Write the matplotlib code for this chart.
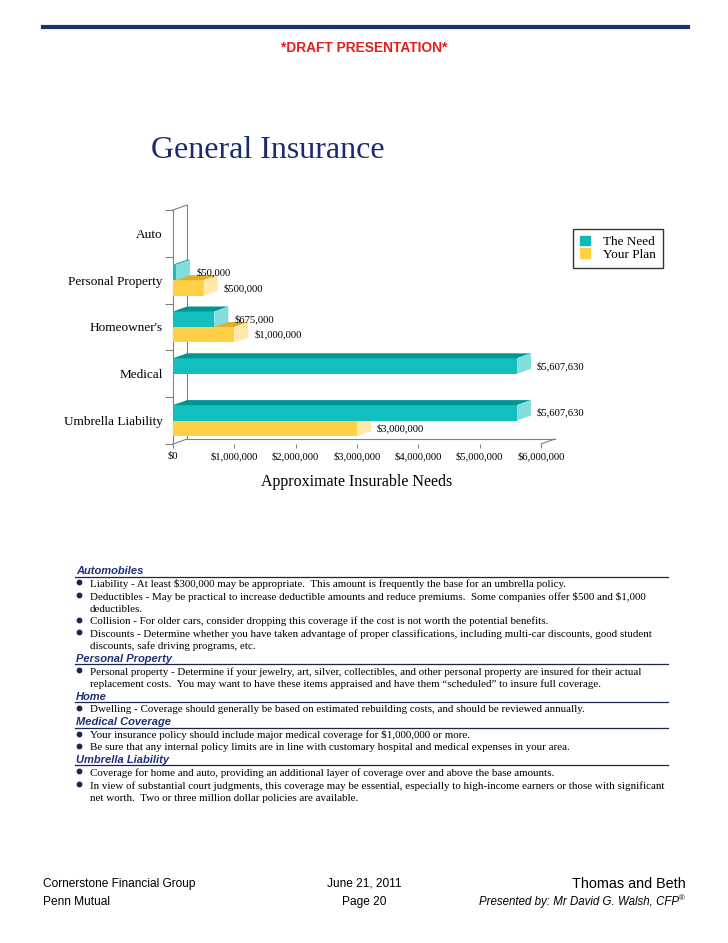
import matplotlib
matplotlib.use("Agg")
import matplotlib.pyplot as plt
from matplotlib.patches import Polygon, Patch
from matplotlib.lines import Line2D
from matplotlib.ticker import FuncFormatter

# --------------------------------------------------------------------------- #
# Data                                                                        #
# --------------------------------------------------------------------------- #
categories = ["Auto", "Personal Property", "Homeowner's", "Medical", "Umbrella Liability"]
the_need = [0, 50000, 675000, 5607630, 5607630]
your_plan = [0, 500000, 1000000, 0, 3000000]
x_ticks = [0, 1000000, 2000000, 3000000, 4000000, 5000000, 6000000]

notes = [
    ("Automobiles", [
        ["Liability - At least $300,000 may be appropriate.  This amount is frequently the base for an umbrella policy."],
        ["Deductibles - May be practical to increase deductible amounts and reduce premiums.  Some companies offer $500 and $1,000",
         "deductibles."],
        ["Collision - For older cars, consider dropping this coverage if the cost is not worth the potential benefits."],
        ["Discounts - Determine whether you have taken advantage of proper classifications, including multi-car discounts, good student",
         "discounts, safe driving programs, etc."],
    ]),
    ("Personal Property", [
        ["Personal property - Determine if your jewelry, art, silver, collectibles, and other personal property are insured for their actual",
         "replacement costs.  You may want to have these items appraised and have them \u201cscheduled\u201d to insure full coverage."],
    ]),
    ("Home", [
        ["Dwelling - Coverage should generally be based on estimated rebuilding costs, and should be reviewed annually."],
    ]),
    ("Medical Coverage", [
        ["Your insurance policy should include major medical coverage for $1,000,000 or more."],
        ["Be sure that any internal policy limits are in line with customary hospital and medical expenses in your area."],
    ]),
    ("Umbrella Liability", [
        ["Coverage for home and auto, providing an additional layer of coverage over and above the base amounts."],
        ["In view of substantial court judgments, this coverage may be essential, especially to high-income earners or those with significant",
         "net worth.  Two or three million dollar policies are available."],
    ]),
]

W, H = 728, 943
NAVY = "#1F2F7A"
SERIF = ["Liberation Serif", "DejaVu Serif"]
SANS = ["Liberation Sans", "DejaVu Sans"]

TEAL = ("#12BEBE", "#009494", "#82DEDE")     # front, top, side
GOLD = ("#FFCF45", "#E2AE2E", "#FFE8A8")

plt.rcParams["text.parse_math"] = False


def fx(x):
    return x / W


def fy(y):
    return 1 - y / H


fig = plt.figure(figsize=(W / 100, H / 100), dpi=100)

# --------------------------------------------------------------------------- #
# Page header                                                                 #
# --------------------------------------------------------------------------- #
fig.add_artist(Line2D([fx(43), fx(688)], [fy(27), fy(27)], lw=3, color="#1B3172"))
fig.text(fx(364), fy(48), "*DRAFT PRESENTATION*", ha="center", va="center",
         fontsize=9.9, fontweight="bold", color="#E0201E", family=SANS)
fig.text(fx(268), fy(150), "General Insurance", ha="center", va="center",
         fontsize=23, color="#1C2B6E", family=SERIF)

# --------------------------------------------------------------------------- #
# Pseudo-3D horizontal bar chart                                              #
# --------------------------------------------------------------------------- #
ax = fig.add_axes([fx(173), fy(444), 368 / W, 234 / H])
ax.set_xlim(0, 6000000)
ax.set_ylim(-0.5, 4.5)

n = len(categories)
ypos = [n - 1 - i for i in range(n)]
row_px = 234 / n
bh = 15.5 / row_px
DX = 14 * 6000000 / 368
DY = 5 / row_px
GRAY = "#808080"

# back wall + floor edges
wall = dict(color=GRAY, lw=0.8, clip_on=False, zorder=1)
ax.plot([DX, DX], [-0.5 + DY, 4.5 + DY], **wall)
ax.plot([0, DX], [4.5, 4.5 + DY], **wall)
ax.plot([0, DX], [-0.5, -0.5 + DY], **wall)
ax.plot([DX, 6000000 + DX], [-0.5 + DY, -0.5 + DY], **wall)
ax.plot([6000000, 6000000 + DX], [-0.5, -0.5 + DY], **wall)


def bar3d(y0, w, cols):
    if w <= 0:
        return
    ax.barh(y0, w, height=bh, align="edge", color=cols[0], lw=0, zorder=3)
    top = [(0, y0 + bh), (w, y0 + bh), (w + DX, y0 + bh + DY), (DX, y0 + bh + DY)]
    side = [(w, y0), (w + DX, y0 + DY), (w + DX, y0 + bh + DY), (w, y0 + bh)]
    ax.add_patch(Polygon(top, closed=True, fc=cols[1], lw=0, zorder=3, clip_on=False))
    ax.add_patch(Polygon(side, closed=True, fc=cols[2], lw=0, zorder=3, clip_on=False))


lbl_dx = 6 * 6000000 / 368
for y, need, plan in zip(ypos, the_need, your_plan):
    bar3d(y - bh, plan, GOLD)
    bar3d(y, need, TEAL)
    if plan > 0:
        ax.text(plan + DX + lbl_dx, y - bh / 2, f"${plan:,.0f}", ha="left", va="center",
                fontsize=7.7, family=SERIF, zorder=5)
    if need > 0:
        ax.text(need + DX + lbl_dx, y + bh / 2, f"${need:,.0f}", ha="left", va="center",
                fontsize=7.7, family=SERIF, zorder=5)

for s in ("top", "right", "bottom"):
    ax.spines[s].set_visible(False)
ax.spines["left"].set_color(GRAY)
ax.spines["left"].set_linewidth(0.8)
ax.patch.set_alpha(0)

ax.set_yticks([i - 0.5 for i in range(n + 1)])
ax.set_yticklabels([])
ax.set_yticks(ypos, minor=True)
ax.set_yticklabels(categories, minor=True, fontsize=9.5, family=SERIF)
ax.tick_params(axis="y", which="major", length=5.8, color=GRAY, width=0.8)
ax.tick_params(axis="y", which="minor", length=0, pad=7.2)

ax.set_xticks(x_ticks)
ax.xaxis.set_major_formatter(FuncFormatter(lambda v, p: f"${v:,.0f}"))
ax.tick_params(axis="x", length=2.9, color=GRAY, width=0.8, pad=2.5, labelsize=7.7)
for t in ax.get_xticklabels():
    t.set_family(SERIF)
ax.set_xlabel("Approximate Insurable Needs", fontsize=11.5, family=SERIF, labelpad=9)

leg = ax.legend(handles=[Patch(color="#12B9B9", label="The Need"),
                         Patch(color="#FFD046", label="Your Plan")],
                loc="upper left", bbox_to_anchor=(fx(573), fy(229)),
                bbox_transform=fig.transFigure, frameon=True, fancybox=False,
                prop={"family": SERIF, "size": 9.5}, handlelength=0.75,
                handleheight=0.7, handletextpad=1.0, labelspacing=0.0,
                borderpad=0.55, borderaxespad=0)
leg.get_frame().set_edgecolor("black")
leg.get_frame().set_linewidth(1.0)

# --------------------------------------------------------------------------- #
# Notes section                                                               #
# --------------------------------------------------------------------------- #
y = 570
line_step = 12.45
head_gap = 13.0
for head, items in notes:
    fig.text(fx(76), fy(y), head, ha="left", va="center_baseline", fontsize=8,
             fontweight="bold", fontstyle="italic", color=NAVY, family=SANS)
    fig.add_artist(Line2D([fx(75), fx(668)], [fy(y + 6.5), fy(y + 6.5)], lw=0.9, color="#1A2550"))
    y += line_step
    for item in items:
        fig.add_artist(Line2D([fx(79)], [fy(y)], marker="o", ms=3.2, color="#1A2550", lw=0))
        for line in item:
            fig.text(fx(90), fy(y + 0.8), line, ha="left", va="center_baseline", fontsize=7.9, family=SERIF)
            y += line_step
    y += head_gap - line_step

# --------------------------------------------------------------------------- #
# Footer                                                                      #
# --------------------------------------------------------------------------- #
fig.text(fx(43), fy(884), "Cornerstone Financial Group", ha="left", va="center", fontsize=8.6, family=SANS)
fig.text(fx(43), fy(902), "Penn Mutual", ha="left", va="center", fontsize=8.6, family=SANS)
fig.text(fx(364), fy(884), "June 21, 2011", ha="center", va="center", fontsize=8.6, family=SANS)
fig.text(fx(364), fy(902), "Page 20", ha="center", va="center", fontsize=8.6, family=SANS)
fig.text(fx(686), fy(884), "Thomas and Beth", ha="right", va="center", fontsize=10.4, family=SANS)
fig.text(fx(679), fy(902), "Presented by: Mr David G. Walsh, CFP", ha="right", va="center",
         fontsize=8.3, fontstyle="italic", family=SANS)
fig.text(fx(679), fy(899), "\u00ae", ha="left", va="center", fontsize=5.5, family=SANS)

fig.savefig("out.png", dpi=100)
